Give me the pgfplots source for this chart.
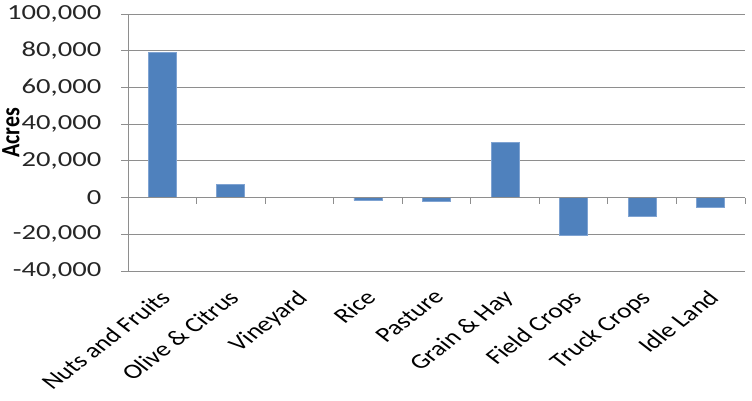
\documentclass[border=0pt]{standalone}
\usepackage{fontspec}
\setmainfont{Carlito}
\usepackage{pgfplots}
\pgfplotsset{compat=1.18}
\definecolor{barblue}{HTML}{4F81BD}
\definecolor{baredge}{HTML}{7FA3D2}
\definecolor{gridgray}{HTML}{8E8E8E}
\begin{document}
\begin{tikzpicture}[x=1pt,y=1pt]
\path[use as bounding box] (0,0) rectangle (752,401);
\begin{axis}[
  at={(128pt,130pt)}, anchor=south west,
  scale only axis, width=617pt, height=257pt,
  xmin=-0.5, xmax=8.5, ymin=-40000, ymax=100000,
  axis line style={draw=none},
  scaled y ticks=false,
  ytick={-40000,-20000,0,20000,40000,60000,80000,100000},
  yticklabels={{-40,000},{-20,000},{0},{20,000},{40,000},{60,000},{80,000},{100,000}},
  ytick pos=left, tick align=outside,
  major tick length=7pt,
  major y tick style={gridgray, line width=0.8pt},
  ymajorgrids, grid style={gridgray, line width=0.9pt},
  yticklabel style={font=\fontsize{21.5}{25}\selectfont, xshift=-15pt, xscale=1.33, text=black!85},
  xtick={0,1,2,3,4,5,6,7,8},
  xticklabels={Nuts and Fruits,Olive \& Citrus,Vineyard,Rice,Pasture,Grain \& Hay,Field Crops,Truck Crops,Idle Land},
  xtick pos=bottom,
  major x tick style={draw=none},
  xticklabel style={font=\fontsize{21}{25}\selectfont, yshift=-6pt, xshift=-4pt, xscale=1.3, rotate=45, anchor=north east, text=black},
  ylabel={\bfseries Acres},
  every axis y label/.style={at={(rel axis cs:0,0.537)}, font=\fontsize{22}{26}\selectfont, xshift=-117pt, xscale=1.2, rotate=90, anchor=center},
  ybar, bar width=28pt,
  clip=false,
]
\addplot[fill=barblue, draw=baredge, line width=0.7pt] coordinates {
  (0,79000) (1,7000) (2,0) (3,-1500) (4,-2200) (5,30000) (6,-20800) (7,-10300) (8,-5300)
};
\draw[gridgray, line width=0.9pt] (axis cs:-0.5,-40000) -- (axis cs:-0.5,100000);
\draw[gridgray, line width=0.9pt] (axis cs:-0.5,0) -- (axis cs:8.5,0);
\pgfplotsinvokeforeach{0.5,1.5,2.5,3.5,4.5,5.5,6.5,7.5,8.5}{
  \draw[gridgray, line width=0.8pt] (axis cs:#1,0) -- ([yshift=-6pt]axis cs:#1,0);
}
\end{axis}
\end{tikzpicture}
\end{document}
